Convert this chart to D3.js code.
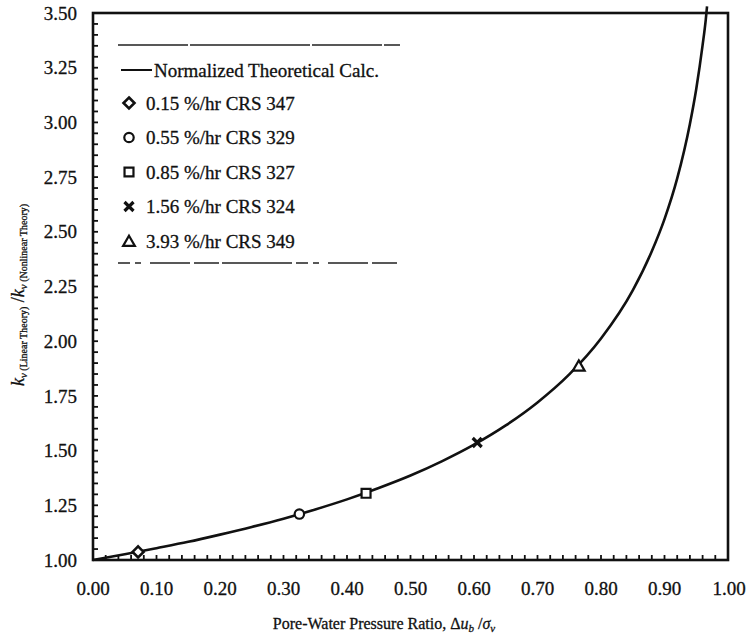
<!DOCTYPE html>
<html>
<head>
<meta charset="utf-8">
<script src="https://cdn.jsdelivr.net/npm/d3@7"></script>
<style>
  body { margin: 0; background: #fff; }
  svg text { font-family: "Liberation Serif", "DejaVu Serif", serif; fill: #111; stroke: #111; stroke-width: 0.3px; }
</style>
</head>
<body>
<svg id="chart"></svg>
<script>
// theoretical curve
const curveX = [0, 0.05, 0.10, 0.15, 0.20, 0.25, 0.30, 0.35, 0.40, 0.45, 0.50, 0.55, 0.60, 0.65, 0.70, 0.75, 0.80, 0.85, 0.88, 0.90, 0.92, 0.94, 0.95, 0.96, 0.965, 0.967];
const curveY = [1.00, 1.026, 1.054, 1.083, 1.116, 1.151, 1.189, 1.231, 1.277, 1.329, 1.386, 1.452, 1.527, 1.615, 1.720, 1.848, 2.012, 2.232, 2.411, 2.558, 2.744, 2.993, 3.153, 3.353, 3.47, 3.53];

// test points
const testLabels = ['0.15 %/hr CRS 347', '0.55 %/hr CRS 329', '0.85 %/hr CRS 327', '1.56 %/hr CRS 324', '3.93 %/hr CRS 349'];
const testSymbols = ['diamond', 'circle', 'square', 'cross', 'triangle'];
const testX = [0.071, 0.325, 0.43, 0.605, 0.765];
const testY = [1.037, 1.21, 1.305, 1.537, 1.888];

const xTicks = [0, 0.1, 0.2, 0.3, 0.4, 0.5, 0.6, 0.7, 0.8, 0.9, 1.0];
const yTicks = [1.0, 1.25, 1.5, 1.75, 2.0, 2.25, 2.5, 2.75, 3.0, 3.25, 3.5];

const W = 749, H = 637;
const margin = { top: 13, right: 21, bottom: 77, left: 93 };
const width = W - margin.left - margin.right;
const height = H - margin.top - margin.bottom;

const svg = d3.select('#chart').attr('width', W).attr('height', H);
const chart = svg.append('g').attr('transform', `translate(${margin.left},${margin.top})`);

const x = d3.scaleLinear().domain([0, 1]).range([0, width]);
const y = d3.scaleLinear().domain([1, 3.5]).range([height, 0]);

// minor ticks (inside)
chart.selectAll('.xminor')
    .data(d3.range(0, 1.0001, 0.02))
    .join('line')
    .attr('x1', d => x(d)).attr('x2', d => x(d))
    .attr('y1', height).attr('y2', height - 5)
    .attr('stroke', '#111').attr('stroke-width', 1.8);

chart.selectAll('.yminor')
    .data(d3.range(1, 3.5001, 0.05))
    .join('line')
    .attr('x1', 0).attr('x2', 5)
    .attr('y1', d => y(d)).attr('y2', d => y(d))
    .attr('stroke', '#111').attr('stroke-width', 1.8);

// frame
chart.append('rect')
    .attr('width', width).attr('height', height)
    .attr('fill', 'none').attr('stroke', '#111').attr('stroke-width', 2.6);

// tick labels
chart.selectAll('.xlab')
    .data(xTicks)
    .join('text')
    .attr('x', d => x(d) + (d === 1 ? 1 : 0))
    .attr('y', height + 35)
    .attr('text-anchor', 'middle')
    .attr('font-size', 19)
    .text(d => d3.format('.2f')(d));

chart.selectAll('.ylab')
    .data(yTicks)
    .join('text')
    .attr('x', -16)
    .attr('y', d => y(d))
    .attr('dy', '0.35em')
    .attr('text-anchor', 'end')
    .attr('font-size', 19)
    .text(d => d3.format('.2f')(d));

// theoretical curve
const line = d3.line()
    .x(d => x(d[0]))
    .y(d => y(d[1]))
    .curve(d3.curveMonotoneX);

chart.append('path')
    .datum(curveX.map((v, i) => [v, curveY[i]]))
    .attr('d', line)
    .attr('fill', 'none')
    .attr('stroke', '#111')
    .attr('stroke-width', 2.6);

function drawSymbol(g, type) {
    if (type === 'cross') {
        const s = 4.5;
        g.append('path')
            .attr('d', `M${-s},${-s}L${s},${s}M${-s},${s}L${s},${-s}`)
            .attr('stroke', '#111').attr('stroke-width', 3.2).attr('fill', 'none');
        return;
    }
    if (type === 'diamond') {
        const s = 5.5;
        g.append('path')
            .attr('d', `M0,${-s}L${s},0L0,${s}L${-s},0Z`)
            .attr('fill', '#fff').attr('stroke', '#111').attr('stroke-width', 2.6);
        return;
    }
    const shapes = {
        circle: d3.symbolCircle,
        square: d3.symbolSquare,
        triangle: d3.symbolTriangle
    };
    const size = { circle: 70, square: 80, triangle: 60 }[type];
    g.append('path')
        .attr('d', d3.symbol().type(shapes[type]).size(size)())
        .attr('transform', type === 'triangle' ? 'translate(0,1.5)' : null)
        .attr('fill', '#fff')
        .attr('stroke', '#111')
        .attr('stroke-width', 2.2);
}

// data markers
testX.forEach((v, i) => {
    const g = chart.append('g').attr('transform', `translate(${x(v)},${y(testY[i])})`);
    drawSymbol(g, testSymbols[i]);
});

// legend
const legend = svg.append('g').attr('class', 'legend');
legend.append('line')
    .attr('x1', 118).attr('x2', 400).attr('y1', 45).attr('y2', 45)
    .attr('stroke', '#222').attr('stroke-width', 1.3)
    .attr('stroke-dasharray', '70,2,120,2');
legend.append('line')
    .attr('x1', 118).attr('x2', 400).attr('y1', 263).attr('y2', 263)
    .attr('stroke', '#222').attr('stroke-width', 1.3)
    .attr('stroke-dasharray', '12,5,6,9,40,4,25,3,70,4');

legend.append('line')
    .attr('x1', 121).attr('x2', 152).attr('y1', 70).attr('y2', 70)
    .attr('stroke', '#111').attr('stroke-width', 2);
legend.append('text')
    .attr('x', 154).attr('y', 70).attr('dy', '0.35em')
    .attr('font-size', 19)
    .text('Normalized Theoretical Calc.');

testLabels.forEach((lab, i) => {
    const yy = 103 + i * 34.5;
    const g = legend.append('g').attr('transform', `translate(129,${yy})`);
    drawSymbol(g, testSymbols[i]);
    legend.append('text')
        .attr('x', 146).attr('y', yy).attr('dy', '0.35em')
        .attr('font-size', 19)
        .text(lab);
});

// axis titles
const xt = svg.append('text')
    .attr('x', 384).attr('y', 629)
    .attr('text-anchor', 'middle')
    .attr('font-size', 16);
xt.append('tspan').text('Pore-Water Pressure Ratio, \u0394');
xt.append('tspan').attr('font-style', 'italic').text('u');
xt.append('tspan').attr('font-style', 'italic').attr('font-size', 11).attr('dy', 3).text('b');
xt.append('tspan').attr('dy', -3).text(' /');
xt.append('tspan').attr('font-style', 'italic').text('\u03c3');
xt.append('tspan').attr('font-style', 'italic').attr('font-size', 11).attr('dy', 3).text('v');

const yt = svg.append('text')
    .attr('transform', 'translate(24,295) rotate(-90)')
    .attr('text-anchor', 'middle')
    .attr('font-size', 18);
yt.append('tspan').attr('font-style', 'italic').text('k');
yt.append('tspan').attr('font-style', 'italic').attr('font-size', 11).attr('dy', 3).text('v');
yt.append('tspan').attr('font-size', 10).text(' (Linear Theory)');
yt.append('tspan').attr('dy', -3).text(' /');
yt.append('tspan').attr('font-style', 'italic').text('k');
yt.append('tspan').attr('font-style', 'italic').attr('font-size', 11).attr('dy', 3).text('v');
yt.append('tspan').attr('font-size', 10).text(' (Nonlinear Theory)');
</script>
</body>
</html>
